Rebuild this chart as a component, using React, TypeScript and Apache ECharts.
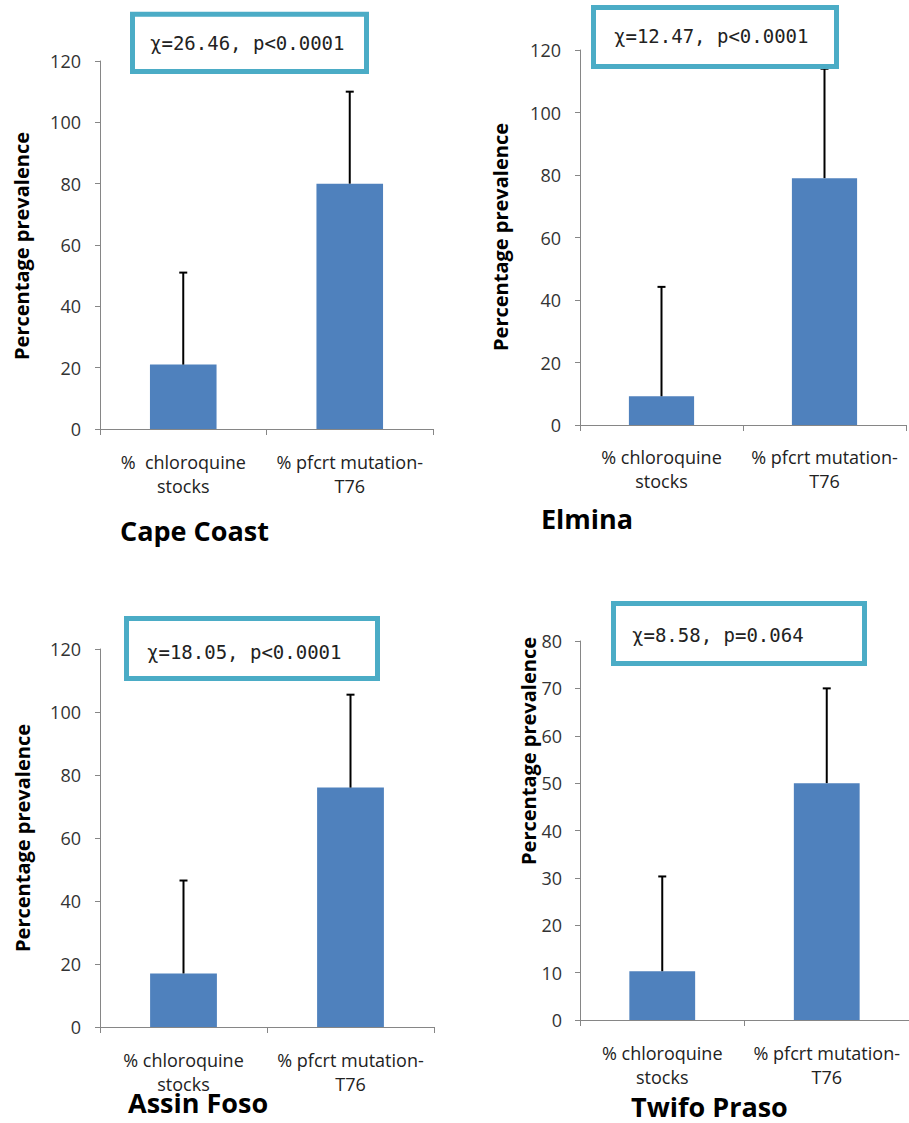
import React, { useEffect, useRef } from "react";
import * as echarts from "echarts";

// ---- Data ----
const categoriesCapeCoast = ["%  chloroquine\nstocks", "% pfcrt mutation-\nT76"];
const categories = ["% chloroquine\nstocks", "% pfcrt mutation-\nT76"];

const capeCoastValues = [21, 80];
const capeCoastErrors = [30, 30];
const elminaValues = [9.2, 79];
const elminaErrors = [35, 35];
const assinFosoValues = [17, 76];
const assinFosoErrors = [29.5, 29.5];
const twifoPrasoValues = [10.3, 50];
const twifoPrasoErrors = [20, 20];

const yMaxes = [120, 120, 120, 80];
const yIntervals = [20, 20, 20, 10];

const placeNames = ["Cape Coast", "Elmina", "Assin Foso", "Twifo Praso"];
const statTexts = ["χ=26.46, p<0.0001", "χ=12.47, p<0.0001", "χ=18.05, p<0.0001", "χ=8.58, p=0.064"];
const yAxisTitle = "Percentage prevalence";

// ---- Layout / style ----
const grids = [
  { left: 100, top: 61, width: 333, height: 368 },
  { left: 580, top: 50, width: 326, height: 375 },
  { left: 100, top: 649, width: 334, height: 378 },
  { left: 580, top: 641, width: 338, height: 379 },
];
const boxes = [
  { x: 132.5, y: 14.2, w: 234, h: 57.3, tx: 150, ty: 43 },
  { x: 593.5, y: 7.5, w: 243, h: 59, tx: 614, ty: 36 },
  { x: 126.5, y: 618.5, w: 251, h: 60, tx: 147, ty: 652 },
  { x: 613.5, y: 603.5, w: 251, h: 60, tx: 632, ty: 635 },
];
const yTitlePos = [
  { x: 21, y: 246 },
  { x: 500, y: 237 },
  { x: 22, y: 838 },
  { x: 528, y: 751 },
];
const placePos = [
  { x: 120, y: 530 },
  { x: 541, y: 518 },
  { x: 128, y: 1102 },
  { x: 631, y: 1106 },
];
const yLabelMargins = [19, 19, 19, 18];
const xLabelMargins = [21, 20, 21, 21];

const BAR_COLOR = "#4F81BD";
const AXIS_COLOR = "#868686";
const BOX_COLOR = "#4BACC6";

export default function App() {
  const ref = useRef<HTMLDivElement>(null);

  useEffect(() => {
    if (!ref.current) return;
    const chart = echarts.init(ref.current, null, { renderer: "svg" });

    const valueSets = [capeCoastValues, elminaValues, assinFosoValues, twifoPrasoValues];
    const errorSets = [capeCoastErrors, elminaErrors, assinFosoErrors, twifoPrasoErrors];
    const catSets = [categoriesCapeCoast, categories, categories, categories];

    const xAxis: any[] = [];
    const yAxis: any[] = [];
    const series: any[] = [];
    const graphic: any[] = [];

    for (let i = 0; i < 4; i++) {
      xAxis.push({
        type: "category",
        gridIndex: i,
        data: catSets[i],
        boundaryGap: true,
        axisLine: { show: true, lineStyle: { color: AXIS_COLOR, width: 1 } },
        axisTick: { show: true, length: 6, alignWithLabel: false, lineStyle: { color: AXIS_COLOR } },
        axisLabel: {
          interval: 0,
          margin: xLabelMargins[i],
          fontSize: 18,
          lineHeight: 24,
          color: "#222",
          fontFamily: "Open Sans",
        },
        splitLine: { show: false },
      });
      yAxis.push({
        type: "value",
        gridIndex: i,
        min: 0,
        max: yMaxes[i],
        interval: yIntervals[i],
        axisLine: { show: true, lineStyle: { color: AXIS_COLOR, width: 1 } },
        axisTick: { show: true, length: 5, lineStyle: { color: AXIS_COLOR } },
        axisLabel: {
          margin: yLabelMargins[i],
          fontSize: 18,
          color: "#333",
          fontFamily: "Open Sans",
        },
        splitLine: { show: false },
      });
      series.push({
        type: "bar",
        xAxisIndex: i,
        yAxisIndex: i,
        barWidth: "40%",
        itemStyle: { color: BAR_COLOR },
        data: valueSets[i],
        z: 2,
      });
      series.push({
        type: "custom",
        xAxisIndex: i,
        yAxisIndex: i,
        clip: false,
        z: 3,
        data: valueSets[i].map((v, k) => [k, v, v + errorSets[i][k]]),
        renderItem: (params: any, api: any) => {
          const base = api.coord([api.value(0), api.value(1)]);
          const top = api.coord([api.value(0), api.value(2)]);
          const style = { stroke: "#000", lineWidth: 2 };
          return {
            type: "group",
            children: [
              { type: "line", shape: { x1: base[0], y1: base[1], x2: top[0], y2: top[1] }, style },
              { type: "line", shape: { x1: top[0] - 4, y1: top[1], x2: top[0] + 4, y2: top[1] }, style },
            ],
          };
        },
      });

      const b = boxes[i];
      graphic.push({
        type: "rect",
        z: 100,
        shape: { x: b.x, y: b.y, width: b.w, height: b.h },
        style: { fill: "#fff", stroke: BOX_COLOR, lineWidth: 5 },
      });
      graphic.push({
        type: "text",
        z: 101,
        x: b.tx,
        y: b.ty,
        style: {
          text: statTexts[i],
          fontFamily: "DejaVu Sans Mono",
          fontSize: 19,
          fill: "#222",
          align: "left",
          verticalAlign: "middle",
        },
      });
      graphic.push({
        type: "text",
        z: 100,
        x: yTitlePos[i].x,
        y: yTitlePos[i].y,
        rotation: Math.PI / 2,
        style: {
          text: yAxisTitle,
          fontFamily: "Open Sans",
          fontWeight: "bold",
          fontSize: 20,
          fill: "#000",
          align: "center",
          verticalAlign: "middle",
        },
      });
      graphic.push({
        type: "text",
        z: 100,
        x: placePos[i].x,
        y: placePos[i].y,
        style: {
          text: placeNames[i],
          fontFamily: "Open Sans",
          fontWeight: "bold",
          fontSize: 27,
          fill: "#000",
          align: "left",
          verticalAlign: "middle",
        },
      });
    }

    chart.setOption({
      animation: false,
      backgroundColor: "#fff",
      grid: grids.map((g) => ({ ...g, containLabel: false })),
      xAxis,
      yAxis,
      series,
      graphic,
    });

    return () => chart.dispose();
  }, []);

  return (
    <div
      ref={ref}
      style={{ position: "absolute", left: 0, top: 0, width: 909, height: 1123, background: "#fff" }}
    />
  );
}
